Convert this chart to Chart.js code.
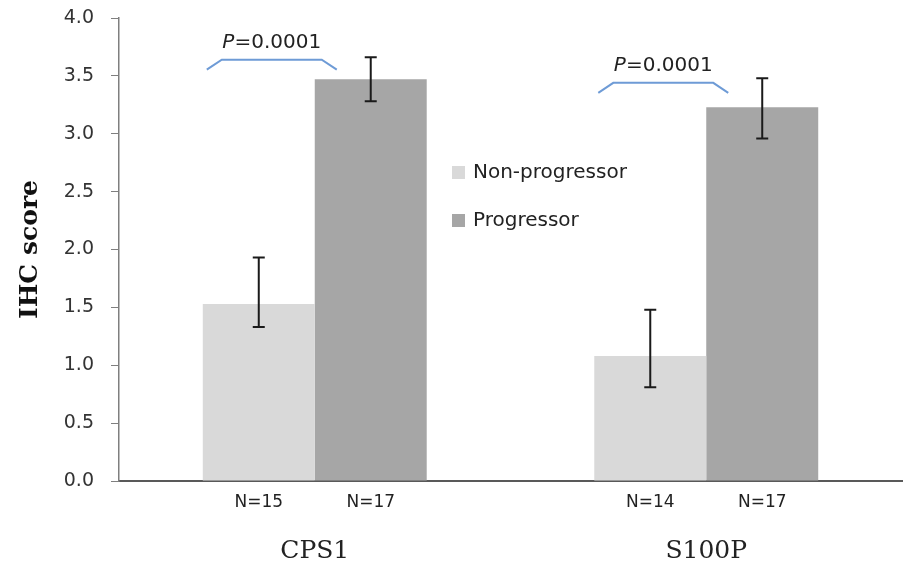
<!DOCTYPE html>
<html>
<head>
<meta charset="utf-8">
<script src="https://cdn.jsdelivr.net/npm/chart.js@4"></script>
<style>
  html, body { margin: 0; padding: 0; background: #fff; }
  #wrap { width: 905px; height: 566px; }
</style>
</head>
<body>
<div id="wrap"><canvas id="chart" width="905" height="566"></canvas></div>
<script>
// Data
const categories = ['CPS1', 'S100P'];
const seriesLabels = ['Non-progressor', 'Progressor'];
const nonProgressor = [1.53, 1.08];
const progressor = [3.47, 3.23];
const nonProgErrUp = [0.40, 0.40];
const nonProgErrDown = [0.20, 0.27];
const progErrUp = [0.19, 0.25];
const progErrDown = [0.19, 0.27];
const nonProgN = ['N=15', 'N=14'];
const progN = ['N=17', 'N=17'];
const pTexts = ['0.0001', '0.0001'];
const pLevels = [3.64, 3.44];
const yMin = 0, yMax = 4, yStep = 0.5;

const colors = ['#d9d9d9', '#a6a6a6'];
const errUp = [nonProgErrUp, progErrUp];
const errDown = [nonProgErrDown, progErrDown];
const nLabels = [nonProgN, progN];

// Error bars, N labels, p-value brackets and legend
const extras = {
  id: 'extras',
  afterDatasetsDraw(chart) {
    const ctx = chart.ctx;
    const y = chart.scales.y;
    ctx.save();

    // error bars
    ctx.strokeStyle = '#1a1a1a';
    ctx.lineWidth = 2;
    chart.data.datasets.forEach((ds, di) => {
      chart.getDatasetMeta(di).data.forEach((bar, i) => {
        const v = ds.data[i];
        const top = y.getPixelForValue(v + errUp[di][i]);
        const bot = y.getPixelForValue(v - errDown[di][i]);
        ctx.beginPath();
        ctx.moveTo(bar.x, top); ctx.lineTo(bar.x, bot);
        ctx.moveTo(bar.x - 6, top); ctx.lineTo(bar.x + 6, top);
        ctx.moveTo(bar.x - 6, bot); ctx.lineTo(bar.x + 6, bot);
        ctx.stroke();
      });
    });

    // N labels under each bar
    ctx.fillStyle = '#222';
    ctx.font = '17px "DejaVu Sans"';
    ctx.textAlign = 'center';
    ctx.textBaseline = 'middle';
    chart.data.datasets.forEach((ds, di) => {
      chart.getDatasetMeta(di).data.forEach((bar, i) => {
        ctx.fillText(nLabels[di][i], bar.x, chart.chartArea.bottom + 22);
      });
    });

    // p-value brackets
    const m0 = chart.getDatasetMeta(0).data;
    const m1 = chart.getDatasetMeta(1).data;
    categories.forEach((c, i) => {
      const l0 = m0[i].x - m0[i].width / 2;
      const l1 = m1[i].x - m1[i].width / 2;
      const yb = y.getPixelForValue(pLevels[i]);
      const x1 = l0 + 4, x2 = l0 + 19, x3 = l1 + 7, x4 = l1 + 22;
      ctx.strokeStyle = '#6e9bd6';
      ctx.lineWidth = 2;
      ctx.beginPath();
      ctx.moveTo(x1, yb + 10);
      ctx.lineTo(x2, yb);
      ctx.lineTo(x3, yb);
      ctx.lineTo(x4, yb + 10);
      ctx.stroke();

      const cx = (x1 + x4) / 2;
      const ty = yb - 17;
      ctx.font = 'italic 20px "DejaVu Sans"';
      const wP = ctx.measureText('P').width;
      ctx.font = '20px "DejaVu Sans"';
      const wR = ctx.measureText('=' + pTexts[i]).width;
      const start = cx - (wP + wR) / 2;
      ctx.fillStyle = '#222';
      ctx.textAlign = 'left';
      ctx.font = 'italic 20px "DejaVu Sans"';
      ctx.fillText('P', start, ty);
      ctx.font = '20px "DejaVu Sans"';
      ctx.fillText('=' + pTexts[i], start + wP, ty);
    });

    // legend inside the plot
    ctx.textAlign = 'left';
    ctx.font = '20px "DejaVu Sans"';
    seriesLabels.forEach((lab, i) => {
      const cy = 173 + i * 48;
      ctx.fillStyle = colors[i];
      ctx.fillRect(452, cy - 7, 13, 13);
      ctx.fillStyle = '#222';
      ctx.fillText(lab, 473, cy);
    });

    ctx.restore();
  }
};

new Chart(document.getElementById('chart'), {
  type: 'bar',
  data: {
    labels: categories,
    datasets: [
      { label: seriesLabels[0], data: nonProgressor, backgroundColor: colors[0] },
      { label: seriesLabels[1], data: progressor, backgroundColor: colors[1] }
    ]
  },
  options: {
    responsive: false,
    animation: false,
    layout: { padding: { top: 18, right: 3, left: 0, bottom: 0 } },
    datasets: { bar: { categoryPercentage: 0.572, barPercentage: 1.0 } },
    plugins: {
      legend: { display: false },
      tooltip: { enabled: false }
    },
    scales: {
      x: {
        grid: { display: false, drawTicks: false },
        border: { color: '#595959', width: 2 },
        ticks: {
          color: '#222',
          padding: 55,
          font: { family: '"DejaVu Serif"', size: 25 }
        },
        afterFit(scale) { scale.height = 85; }
      },
      y: {
        min: yMin,
        max: yMax,
        grid: { drawOnChartArea: false, drawTicks: true, tickLength: 8, color: '#7f7f7f' },
        border: { color: '#7f7f7f', width: 1.5 },
        ticks: {
          stepSize: yStep,
          color: '#333',
          padding: 17,
          font: { family: '"DejaVu Sans"', size: 19 },
          callback: v => v.toFixed(1)
        },
        title: {
          display: true,
          text: 'IHC score',
          color: '#111',
          font: { family: '"DejaVu Serif"', size: 25, weight: 'bold' },
          padding: { top: 15, bottom: 0 }
        },
        afterFit(scale) {
          scale.width = 119;
          scale.paddingTop = 10;
          scale.paddingBottom = 10;
        }
      }
    }
  },
  plugins: [extras]
});
</script>
</body>
</html>
